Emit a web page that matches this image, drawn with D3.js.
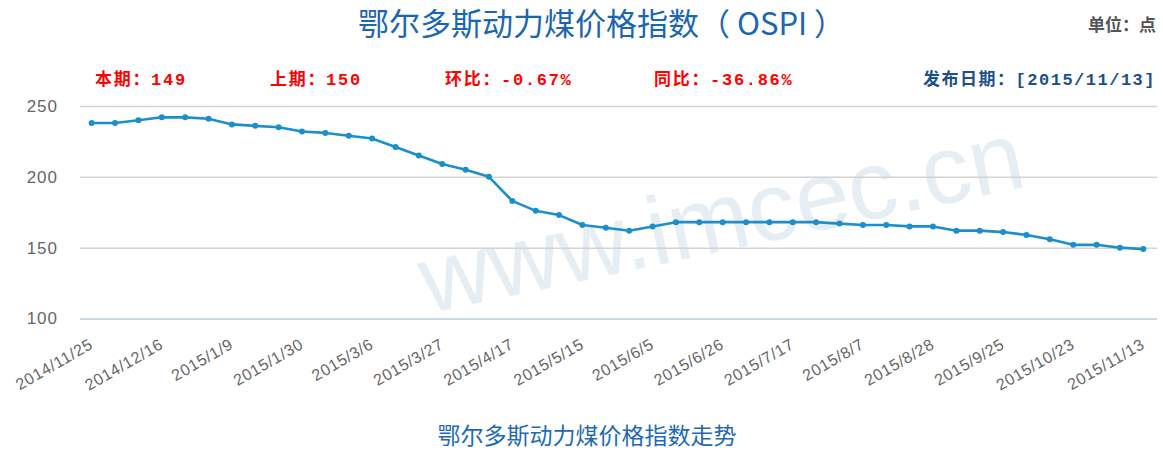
<!DOCTYPE html>
<html>
<head>
<meta charset="utf-8">
<script src="https://cdn.jsdelivr.net/npm/d3@7/dist/d3.min.js"></script>
<style>
  html, body { margin: 0; padding: 0; background: #fff; }
  svg { display: block; }
</style>
</head>
<body>
<svg id="chart" width="1163" height="450"></svg>
<script>
// ---- data ----
const tickLabels = ["2014/11/25","2014/12/16","2015/1/9","2015/1/30","2015/3/6","2015/3/27",
  "2015/4/17","2015/5/15","2015/6/5","2015/6/26","2015/7/17","2015/8/7","2015/8/28",
  "2015/9/25","2015/10/23","2015/11/13"];
const tickStep = 3;
const values = [238,238,240,242,242,241,237,236,235,232,231,229,227,221,215,209,205,200,
  183,176,173,166,164,162,165,168,168,168,168,168,168,168,167,166,166,165,165,162,162,
  161,159,156,152,152,150,149];
const yTicks = [100,150,200,250];
const titleText = "鄂尔多斯动力煤价格指数（ OSPI ）";
const unitText = "单位：点";
const infoItems = ["本期：149","上期：150","环比：-0.67%","同比：-36.86%"];
const releaseText = "发布日期：[2015/11/13]";
const captionText = "鄂尔多斯动力煤价格指数走势";
const watermarkText = "www.imcec.cn";

// ---- layout ----
const svg = d3.select("#chart");
const plotL = 80, plotR = 1157, plotT = 106, plotB = 318.5;

const x = d3.scalePoint().domain(d3.range(values.length)).range([plotL, 1155]).padding(0.5);
const y = d3.scaleLinear().domain([100, 250]).range([plotB, plotT]);

// watermark
svg.append("text")
  .attr("transform", "translate(728,250) rotate(-12)")
  .attr("text-anchor", "middle")
  .attr("font-family", "Liberation Sans, Arial, sans-serif")
  .attr("font-size", 97)
  .attr("fill", "#e6edf3")
  .text(watermarkText);

// title
svg.append("text")
  .attr("x", 358).attr("y", 35)
  .attr("font-family", "'Noto Sans CJK SC', sans-serif")
  .attr("font-size", 31)
  .attr("fill", "#1a66b2")
  .text(titleText);

svg.append("text")
  .attr("x", 1156).attr("y", 31)
  .attr("text-anchor", "end")
  .attr("font-family", "'Noto Sans CJK SC', sans-serif")
  .attr("font-weight", "bold")
  .attr("font-size", 17)
  .attr("fill", "#555")
  .text(unitText);

// info row
const infoX = [95, 270, 445, 654];
svg.selectAll("text.info").data(infoItems).enter().append("text")
  .attr("class", "info")
  .attr("x", (d, i) => infoX[i]).attr("y", 85)
  .attr("font-family", "'Liberation Mono', 'Noto Sans CJK SC', monospace")
  .attr("font-weight", "bold")
  .attr("font-size", 17)
  .attr("letter-spacing", 1.7)
  .attr("fill", "#ff0000")
  .text(d => d);

svg.append("text")
  .attr("x", 1156).attr("y", 85)
  .attr("text-anchor", "end")
  .attr("font-family", "'Liberation Mono', 'Noto Sans CJK SC', monospace")
  .attr("font-weight", "bold")
  .attr("font-size", 17)
  .attr("letter-spacing", 1.5)
  .attr("fill", "#1d4f8c")
  .text(releaseText);

// y axis + gridlines
const yAxis = svg.append("g")
  .attr("transform", `translate(${plotL},0)`)
  .call(d3.axisLeft(y).tickValues(yTicks).tickSize(-(plotR - plotL)).tickPadding(22).tickFormat(d3.format("d")));
yAxis.select(".domain").remove();
yAxis.selectAll(".tick line")
  .attr("stroke", d => d === 100 ? "#ccd6eb" : "#d3d3d3")
  .attr("stroke-width", d => d === 100 ? 2 : 1.5);
yAxis.selectAll(".tick text")
  .attr("font-family", "Liberation Sans, Arial, sans-serif")
  .attr("font-size", 17)
  .attr("letter-spacing", 1)
  .attr("fill", "#666");

// x axis
const xAxis = svg.append("g")
  .attr("transform", `translate(0,${plotB})`)
  .call(d3.axisBottom(x)
    .tickValues(d3.range(0, values.length, tickStep))
    .tickFormat(i => tickLabels[i / tickStep])
    .tickSize(0));
xAxis.select(".domain").remove();
xAxis.selectAll(".tick text")
  .attr("x", 0).attr("y", 0).attr("dy", 0)
  .attr("text-anchor", "end")
  .attr("transform", "translate(2,29) rotate(-30)")
  .attr("font-family", "Liberation Sans, Arial, sans-serif")
  .attr("font-size", 16)
  .attr("letter-spacing", 0.7)
  .attr("fill", "#666");

// line
const lineColor = "#1b8fcb";
svg.append("path")
  .datum(values)
  .attr("fill", "none")
  .attr("stroke", lineColor)
  .attr("stroke-width", 2.6)
  .attr("stroke-linejoin", "round")
  .attr("d", d3.line().x((d, i) => x(i)).y(d => y(d)));

svg.selectAll("circle.pt").data(values).enter().append("circle")
  .attr("class", "pt")
  .attr("cx", (d, i) => x(i))
  .attr("cy", d => y(d))
  .attr("r", 3)
  .attr("fill", lineColor);

// caption
svg.append("text")
  .attr("x", 587).attr("y", 444)
  .attr("text-anchor", "middle")
  .attr("font-family", "'Noto Sans CJK SC', sans-serif")
  .attr("font-size", 23)
  .attr("fill", "#1f6ab3")
  .text(captionText);
</script>
</body>
</html>
